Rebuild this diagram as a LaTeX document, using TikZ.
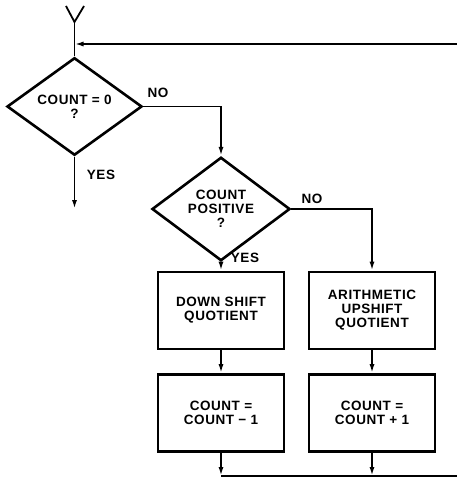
\documentclass[tikz,border=0pt]{standalone}
\usepackage{fontspec}
\setmainfont{Liberation Sans}[LetterSpace=4]
\usetikzlibrary{shapes.geometric,arrows.meta}

\begin{document}
\begin{tikzpicture}[x=1pt,y=-1pt,
  every node/.style={font=\bfseries\fontsize{13.5}{14}\selectfont,align=center},
  decision/.style={diamond,draw,line width=2.6pt,inner sep=0pt},
  process/.style={rectangle,draw,line width=2.6pt,inner sep=0pt,
    minimum width=126pt,minimum height=77pt},
  flow/.style={line width=1.8pt},
  >={Latex[length=9pt,width=5pt]}]
\useasboundingbox (0,0) rectangle (456,478);
% entry fork and loop-back line
\coordinate (yl) at (66,6);
\coordinate (yr) at (84,6);
\coordinate (yt) at (74.5,22);
\coordinate (back) at (458,44);
\coordinate (join) at (74.5,44);
% decisions
\node[decision,minimum width=135pt,minimum height=77pt] (zero) at (74.5,106.5) {COUNT = 0\\?};
\node[decision,minimum width=138pt,minimum height=76pt] (pos) at (221,209) {COUNT\\POSITIVE\\?};
\coordinate (done) at (74.5,209);
% shift and count boxes
\node[process] (down) at (221,310.5) {DOWN SHIFT\\QUOTIENT};
\node[process] (up) at (372,310.5) {ARITHMETIC\\UPSHIFT\\QUOTIENT};
\node[process] (dec) at (221,413) {COUNT =\\COUNT − 1};
\node[process] (inc) at (372,413) {COUNT =\\COUNT + 1};
\coordinate (merge) at (458,476);
% branch labels
\node (no1) at (158,93) {NO};
\node (yes1) at (101,175) {YES};
\node (no2) at (312,199) {NO};
\node (yes2) at (245,258) {YES};
% connectors
\draw[flow] (yl) -- (yt) -- (yr);
\draw[flow] (yt) -- (zero.north);
\draw[flow,->] (back) -- (join);
\draw[flow,->] (zero.east) -| (pos.north);
\draw[flow,->] (zero.south) -- (done);
\draw[flow,->] (pos.south) -- (down.north);
\draw[flow,->] (pos.east) -| (up.north);
\draw[flow,->] (down) -- (dec);
\draw[flow,->] (up) -- (inc);
\draw[flow,->] (dec.south) -- (dec.south |- merge);
\draw[flow,->] (inc.south) -- (inc.south |- merge);
\draw[flow] (dec.south |- merge) -- (merge);
\end{tikzpicture}
\end{document}
